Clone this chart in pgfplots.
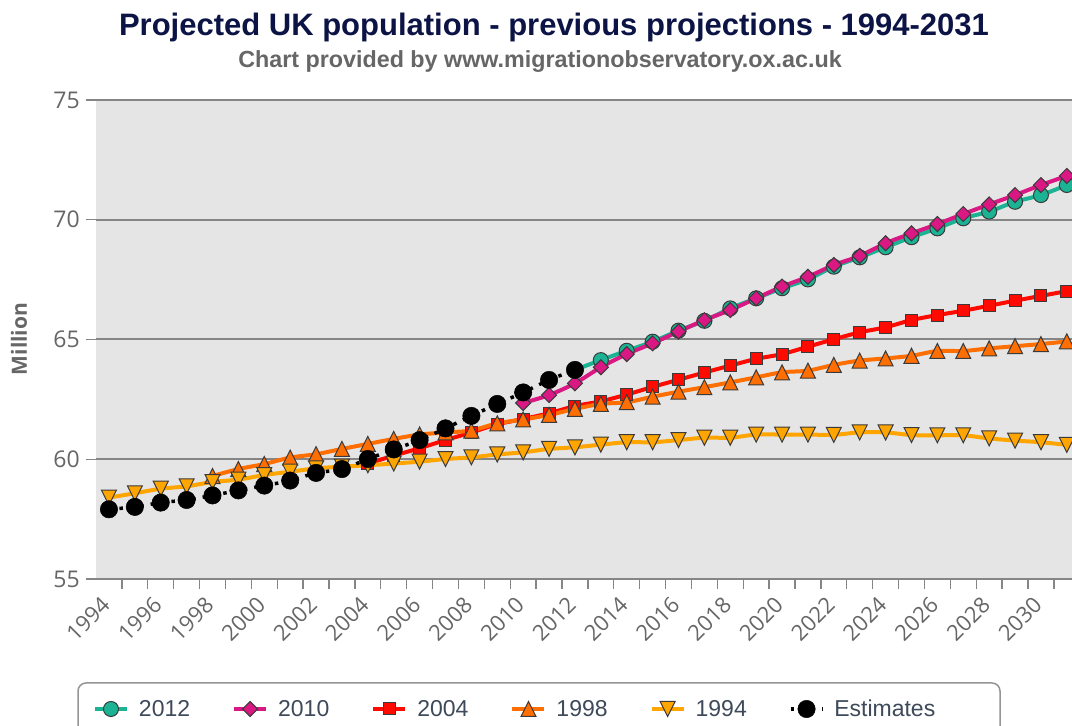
\documentclass[border=0pt]{standalone}
\usepackage{fontspec}
\setmainfont{Liberation Sans}
\newfontfamily\osans{Open Sans}
\usepackage{pgfplots}
\pgfplotsset{compat=1.18}
\definecolor{plotbg}{HTML}{E5E5E5}
\definecolor{gridc}{HTML}{858585}
\definecolor{tickc}{HTML}{666666}
\definecolor{titlec}{HTML}{0C1446}
\definecolor{legtext}{HTML}{3E4A5A}
\definecolor{legborder}{HTML}{959595}
\definecolor{mborder}{HTML}{3A3A3A}
\definecolor{c2012}{HTML}{1BB394}
\definecolor{c2010}{HTML}{DA1884}
\definecolor{c2004}{HTML}{FF0A00}
\definecolor{c1998}{HTML}{FF6E00}
\definecolor{c1994}{HTML}{FFA500}
\pgfdeclareplotmark{hctri}{%
 \pgfpathmoveto{\pgfqpoint{0pt}{\pgfplotmarksize}}%
 \pgfpathlineto{\pgfqpoint{\pgfplotmarksize}{-\pgfplotmarksize}}%
 \pgfpathlineto{\pgfqpoint{-\pgfplotmarksize}{-\pgfplotmarksize}}%
 \pgfpathclose\pgfusepathqfillstroke}
\pgfdeclareplotmark{hctridown}{%
 \pgfpathmoveto{\pgfqpoint{0pt}{-\pgfplotmarksize}}%
 \pgfpathlineto{\pgfqpoint{\pgfplotmarksize}{\pgfplotmarksize}}%
 \pgfpathlineto{\pgfqpoint{-\pgfplotmarksize}{\pgfplotmarksize}}%
 \pgfpathclose\pgfusepathqfillstroke}
\pgfdeclareplotmark{hcdiam}{%
 \pgfpathmoveto{\pgfqpoint{0pt}{\pgfplotmarksize}}%
 \pgfpathlineto{\pgfqpoint{\pgfplotmarksize}{0pt}}%
 \pgfpathlineto{\pgfqpoint{0pt}{-\pgfplotmarksize}}%
 \pgfpathlineto{\pgfqpoint{-\pgfplotmarksize}{0pt}}%
 \pgfpathclose\pgfusepathqfillstroke}
\begin{document}
\begin{tikzpicture}[x=1pt,y=1pt]
\useasboundingbox (0,0) rectangle (1072,726);
\fill[white] (0,0) rectangle (1072,726);
\node[font=\fontsize{31}{36}\selectfont\bfseries, text=titlec, anchor=base] at (554,690) {Projected UK population - previous projections - 1994-2031};
\node[font=\fontsize{23.3}{27}\selectfont\bfseries, text=tickc, anchor=base] at (540,658) {Chart provided by www.migrationobservatory.ox.ac.uk};
\node[font=\fontsize{21}{25}\selectfont\osans\bfseries, text=tickc, rotate=90] at (19,387) {Million};
\draw[draw=legborder, line width=1.5pt, rounded corners=8pt] (78,-30) rectangle (1000,43);
\begin{axis}[
  at={(96pt,147pt)}, anchor=south west,
  scale only axis, width=976pt, height=479pt,
  xmin=-0.5, xmax=37.2, ymin=55, ymax=75,
  axis background/.style={fill=plotbg},
  axis line style={draw=none},
  ytick={55,60,65,70,75},
  ymajorgrids,
  major grid style={draw=gridc, line width=2pt},
  ytick pos=left, xtick pos=lower, tick align=outside,
  major tick length=10pt,
  tick style={draw=gridc, line width=1.3pt},
  xtick={0.5,1.5,...,36.5},
  xticklabels={},
  extra x ticks={0,2,...,36},
  extra x tick labels={1994,1996,1998,2000,2002,2004,2006,2008,2010,2012,2014,2016,2018,2020,2022,2024,2026,2028,2030},
  extra x tick style={major tick length=0pt, grid=none,
     xticklabel style={font=\fontsize{22}{26}\selectfont\osans, text=tickc, inner sep=0pt, xshift=-3pt, yshift=-22pt, rotate=45, anchor=east}},
  yticklabel style={font=\fontsize{23}{27}\selectfont\osans, text=tickc, inner sep=0pt, xshift=-6pt},
  /pgf/number format/assume math mode=true,
  legend image code/.code={\draw[mark repeat=2, mark phase=2] plot coordinates {(0pt,0pt) (16pt,0pt) (32pt,0pt)};},
  legend columns=6,
  legend style={at={(-0.0031,-0.2714)}, anchor=west, draw=none, fill=none,
     inner sep=0pt, outer sep=0pt, nodes={inner sep=0pt},
     font=\fontsize{23}{27}\selectfont, text=legtext, column sep=0pt,
     /tikz/every odd column/.append style={column sep=10pt},
     /tikz/every even column/.append style={column sep=42pt}},
]
\addplot[c2012, line width=4pt, smooth, mark=*, mark size=7.5pt,
  mark options={fill=c2012, draw=mborder, line width=1pt, solid}]
coordinates {(18,63.73)(19,64.14)(20,64.53)(21,64.91)(22,65.37)(23,65.78)(24,66.30)(25,66.72)(26,67.14)(27,67.51)(28,68.04)(29,68.43)(30,68.85)(31,69.27)(32,69.64)(33,70.06)(34,70.34)(35,70.75)(36,71.03)(37,71.45)};
\addplot[c2010, line width=4pt, smooth, mark=hcdiam, mark size=7.5pt,
  mark options={fill=c2010, draw=mborder, line width=1pt, solid}]
coordinates {(16,62.35)(17,62.68)(18,63.17)(19,63.84)(20,64.39)(21,64.84)(22,65.33)(23,65.81)(24,66.23)(25,66.72)(26,67.21)(27,67.62)(28,68.11)(29,68.49)(30,69.02)(31,69.43)(32,69.82)(33,70.24)(34,70.64)(35,71.03)(36,71.45)(37,71.83)};
\addplot[c2004, line width=4pt, smooth, mark=square*, mark size=6pt,
  mark options={fill=c2004, draw=mborder, line width=1pt, solid}]
coordinates {(10,59.82)(11,60.15)(12,60.46)(13,60.80)(14,61.12)(15,61.46)(16,61.68)(17,61.92)(18,62.22)(19,62.42)(20,62.70)(21,63.02)(22,63.32)(23,63.62)(24,63.91)(25,64.19)(26,64.39)(27,64.70)(28,65.01)(29,65.30)(30,65.51)(31,65.81)(32,66.02)(33,66.20)(34,66.41)(35,66.62)(36,66.82)(37,67.02)};
\addplot[c1998, line width=4pt, smooth, mark=hctri, mark size=7.5pt,
  mark options={fill=c1998, draw=mborder, line width=1pt, solid}]
coordinates {(4,59.30)(5,59.59)(6,59.80)(7,60.07)(8,60.21)(9,60.43)(10,60.64)(11,60.85)(12,61.03)(13,61.12)(14,61.20)(15,61.50)(16,61.66)(17,61.85)(18,62.10)(19,62.31)(20,62.38)(21,62.61)(22,62.82)(23,63.01)(24,63.21)(25,63.42)(26,63.63)(27,63.70)(28,63.94)(29,64.12)(30,64.21)(31,64.32)(32,64.52)(33,64.52)(34,64.63)(35,64.72)(36,64.81)(37,64.92)};
\addplot[c1994, line width=4pt, smooth, mark=hctridown, mark size=7.5pt,
  mark options={fill=c1994, draw=mborder, line width=1pt, solid}]
coordinates {(0,58.40)(1,58.58)(2,58.77)(3,58.87)(4,59.05)(5,59.15)(6,59.34)(7,59.48)(8,59.62)(9,59.69)(10,59.75)(11,59.82)(12,59.90)(13,60.01)(14,60.08)(15,60.20)(16,60.29)(17,60.43)(18,60.50)(19,60.61)(20,60.71)(21,60.71)(22,60.80)(23,60.90)(24,60.90)(25,61.03)(26,61.03)(27,61.03)(28,61.02)(29,61.12)(30,61.12)(31,61.01)(32,61.00)(33,61.00)(34,60.87)(35,60.78)(36,60.71)(37,60.60)};
\addplot[black, line width=3.5pt, dash pattern=on 3.5pt off 7pt, smooth, mark=*, mark size=8.7pt,
  mark options={fill=black, draw=black, line width=0.5pt, solid}]
coordinates {(0,57.91)(1,58.01)(2,58.19)(3,58.30)(4,58.49)(5,58.70)(6,58.90)(7,59.11)(8,59.43)(9,59.59)(10,60.01)(11,60.41)(12,60.80)(13,61.29)(14,61.81)(15,62.31)(16,62.79)(17,63.31)(18,63.73)};
\legend{2012,2010,2004,1998,1994,Estimates}
\end{axis}
\end{tikzpicture}
\end{document}
